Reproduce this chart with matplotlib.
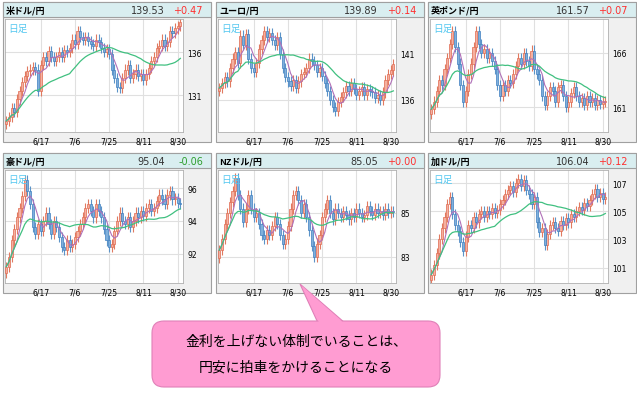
import numpy as np
import pandas as pd
import matplotlib
matplotlib.use("Agg")
import matplotlib.pyplot as plt
from matplotlib.patches import Rectangle, FancyBboxPatch, Polygon

titles = ["米ドル/円", "ユーロ/円", "英ポンド/円", "豪ドル/円", "NZドル/円", "加ドル/円"]
prices = ["139.53", "139.89", "161.57", "95.04", "85.05", "106.04"]
changes = ["+0.47", "+0.14", "+0.07", "-0.06", "+0.00", "+0.12"]
date_labels = ["6/17", "7/6", "7/25", "8/11", "8/30"]
date_index = [13, 26, 39, 52, 65]
yticks = [[131, 136], [136, 141], [161, 166], [92, 94, 96], [83, 85], [101, 103, 105, 107]]
ylims = [(126.7, 139.9), (132.5, 144.8), (158.7, 169.1), (90.2, 97.1), (81.8, 86.96), (99.9, 107.93)]

usd = [128.0,128.5,129.5,129.0,130.5,131.5,132.5,133.2,133.8,134.0,
       134.3,134.0,131.5,134.5,135.5,135.0,136.2,135.5,135.0,135.5,
       136.0,135.5,136.3,136.0,136.5,137.5,137.0,138.5,137.8,137.5,
       137.8,137.3,137.0,136.8,137.5,137.2,136.5,136.0,136.4,135.8,
       134.0,133.0,132.0,131.8,133.0,134.0,134.5,133.0,133.5,134.0,
       133.2,133.5,132.8,133.5,134.2,135.0,135.5,136.5,136.8,137.5,
       136.8,137.2,138.5,138.3,138.8,139.1,139.53]
eur = [137.3,137.8,138.5,138.0,139.5,140.5,141.2,140.0,143.0,142.0,
       143.2,140.5,139.5,139.0,140.0,141.5,142.5,143.5,142.8,143.3,
       142.5,142.0,142.8,141.0,139.5,138.5,138.0,137.5,138.2,137.3,
       138.0,138.8,139.0,139.5,140.5,140.2,139.8,139.0,139.5,138.6,
       137.8,137.0,136.0,135.2,134.8,135.8,136.3,136.8,137.5,137.0,
       137.8,137.2,136.5,137.0,137.4,136.5,137.2,137.0,136.8,136.2,
       136.5,136.0,136.8,138.2,138.8,139.2,139.89]
gbp = [160.8,161.5,162.5,163.5,163.0,164.5,165.5,166.8,168.0,166.5,
       165.0,163.0,161.5,162.5,164.0,165.0,166.5,168.0,166.8,166.0,
       166.3,165.5,166.0,165.2,164.5,163.0,162.0,163.0,162.5,163.5,
       163.2,164.0,164.8,165.5,165.0,166.0,165.2,164.8,166.2,164.5,
       164.0,163.5,162.0,161.2,162.0,162.8,162.5,161.5,162.8,163.0,
       162.0,161.0,161.5,162.3,162.8,162.0,161.5,161.8,161.2,162.0,
       161.5,161.8,161.2,161.6,161.3,161.5,161.57]
aud = [91.2,91.8,92.8,93.5,94.2,94.8,95.5,96.5,95.8,95.0,
       93.6,93.2,93.8,93.4,94.0,94.5,93.8,93.2,94.0,93.6,
       93.0,92.4,92.2,92.8,92.4,92.6,93.0,93.4,93.8,94.2,
       94.8,95.0,94.6,94.2,95.0,94.6,94.2,93.5,92.8,92.4,
       92.6,93.4,94.0,94.5,94.0,93.8,94.2,93.6,94.0,94.5,
       94.2,94.6,94.3,94.8,95.0,94.6,94.8,95.2,95.6,95.3,
       95.0,95.6,95.8,95.3,95.4,95.1,95.04]
nzd = [83.3,83.8,84.5,85.0,85.5,86.0,86.6,85.8,85.2,84.6,
       85.2,85.8,85.2,84.8,85.0,84.5,84.0,83.8,84.2,84.0,
       84.4,84.8,84.5,84.0,83.6,83.8,84.4,85.2,85.8,86.0,
       85.6,85.0,85.4,84.8,84.2,83.5,83.0,83.6,84.0,84.8,
       85.2,85.6,85.0,84.7,85.2,85.0,84.8,85.1,84.9,84.7,
       85.0,84.8,85.2,85.0,84.8,84.9,85.3,85.1,84.9,85.2,
       85.0,85.1,84.9,85.2,85.0,85.1,85.05]
cad = [100.5,101.2,102.0,103.0,103.8,104.6,105.5,106.0,104.8,104.0,
       103.6,102.8,102.2,103.2,104.0,103.8,104.6,104.2,104.8,105.0,
       104.6,105.0,104.8,105.2,104.9,105.1,105.5,105.8,106.2,106.5,
       106.8,106.4,107.0,107.3,106.8,107.2,106.5,106.2,105.5,106.0,
       104.2,103.5,103.8,102.6,103.4,104.0,104.2,103.8,103.6,104.3,
       104.0,104.5,104.2,104.8,104.6,105.0,105.3,105.1,105.6,105.4,
       105.8,106.2,106.6,106.0,106.3,105.9,106.04]
series = [usd, eur, gbp, aud, nzd, cad]

W, H = 637, 402
fig = plt.figure(figsize=(W/100, H/100), dpi=100)
fig.patch.set_facecolor("white")
bg = fig.add_axes([0, 0, 1, 1])
bg.set_xlim(0, W); bg.set_ylim(H, 0); bg.axis("off")

JP = "Noto Sans CJK JP"
panel_x = [3, 216, 428]
panel_y = [3, 154]
pw, ph = 208, 140

for k in range(6):
    x0 = panel_x[k % 3]; y0 = panel_y[k // 3]
    bg.add_patch(Rectangle((x0, y0), pw, ph, facecolor="#f0f0f0", edgecolor="#a0a0a0", lw=0.8))
    bg.add_patch(Rectangle((x0, y0), pw, 15, facecolor="#d9eef0", edgecolor="#a0a0a0", lw=0.8))
    bg.text(x0 + 3, y0 + 8, titles[k], fontfamily=JP, fontsize=6.5, fontweight="bold", va="center", ha="left")
    bg.text(x0 + 162, y0 + 8, prices[k], fontsize=7, va="center", ha="right", color="#333333")
    col = "#2e9e2e" if changes[k].startswith("-") else "#ff3030"
    bg.text(x0 + 200, y0 + 8, changes[k], fontsize=7, va="center", ha="right", color=col)

    ax = fig.add_axes([(x0 + 2) / W, 1 - (y0 + 130) / H, 178 / W, 113 / H])
    ax.set_facecolor("white")
    c = np.array(series[k], dtype=float)
    o = np.concatenate([[c[0] - 0.3 * (c[1] - c[0]) - 0.2], c[:-1]])
    rng = ylims[k][1] - ylims[k][0]
    hi = np.maximum(o, c) + 0.045 * rng
    lo = np.minimum(o, c) - 0.045 * rng
    idx = np.arange(len(c))
    up = c >= o
    ax.vlines(idx[up], lo[up], hi[up], color="#e07a60", lw=0.8, zorder=2)
    ax.vlines(idx[~up], lo[~up], hi[~up], color="#5b93c8", lw=0.8, zorder=2)
    ax.bar(idx[up], (c - o)[up], bottom=o[up], width=0.8, color="#f5b0a0", edgecolor="#e06a50", lw=0.5, zorder=3)
    ax.bar(idx[~up], (o - c)[~up], bottom=c[~up], width=0.8, color="#7fb0dc", edgecolor="#3f7fc0", lw=0.5, zorder=3)
    s = pd.Series(c)
    ax.plot(idx, s.rolling(5, min_periods=1).mean(), color="#b070b8", lw=0.8, zorder=4)
    ax.plot(idx, s.rolling(25, min_periods=1).mean(), color="#40c080", lw=0.9, zorder=4)
    ax.set_xlim(-0.5, 67)
    ax.set_ylim(*ylims[k])
    ax.set_xticks(date_index)
    ax.set_xticklabels(date_labels, fontsize=5.5)
    ax.set_yticks(yticks[k])
    ax.set_yticklabels([str(v) for v in yticks[k]], fontsize=5.5)
    ax.yaxis.tick_right()
    ax.tick_params(length=0, pad=3)
    ax.grid(True, color="#e0e0e0", lw=0.8, zorder=0)
    ax.set_axisbelow(True)
    for sp in ax.spines.values():
        sp.set_color("#b0b0b0"); sp.set_linewidth(0.6)
    ax.text(0.02, 0.97, "日足", transform=ax.transAxes, fontfamily=JP, fontsize=7, color="#55c8f0", va="top", ha="left", zorder=6)

# callout
bg.add_patch(Polygon([[300, 285], [345, 324], [318, 324]], closed=True, facecolor="#ff9cd2", edgecolor="#e080b8", lw=0.8, zorder=5))
bg.add_patch(FancyBboxPatch((152, 322), 288, 66, boxstyle="round,pad=0,rounding_size=12",
                            facecolor="#ff9cd2", edgecolor="#e080b8", lw=0.8, zorder=6))
bg.add_patch(Polygon([[302, 287], [343, 323.5], [319, 323.5]], closed=True, facecolor="#ff9cd2", edgecolor="none", zorder=7))
bg.text(296, 342, "金利を上げない体制でいることは、", fontfamily=JP, fontsize=10, ha="center", va="center", zorder=8)
bg.text(296, 368, "円安に拍車をかけることになる", fontfamily=JP, fontsize=10, ha="center", va="center", zorder=8)

fig.savefig("out.png", dpi=100)
